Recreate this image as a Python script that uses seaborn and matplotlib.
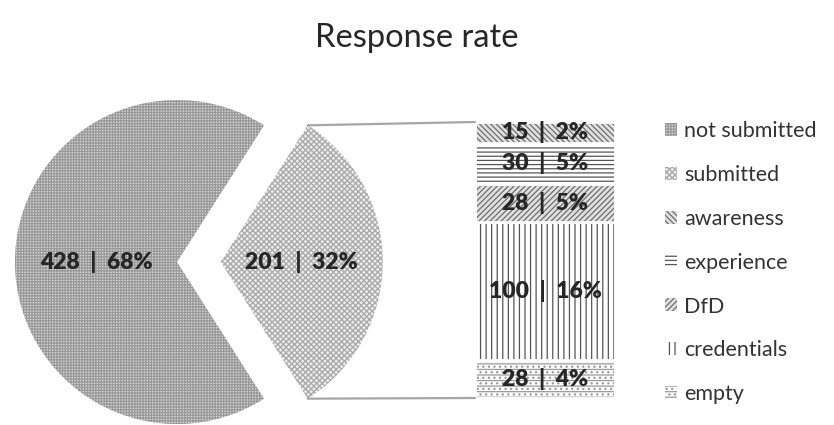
import matplotlib
matplotlib.use("Agg")
import matplotlib.pyplot as plt
from matplotlib.patches import Patch, ConnectionPatch
import numpy as np
import seaborn as sns

# first split: who handed the form in
main_labels = ["submitted", "not submitted"]
main_counts = [201, 428]
main_text = ["201 | 32%", "428 | 68%"]

# breakdown of the submitted ones, bottom to top
sub_labels = ["empty", "credentials", "DfD", "experience", "awareness"]
sub_counts = [28, 100, 28, 30, 15]
sub_text = ["28 | 4%", "100 | 16%", "28 | 5%", "30 | 5%", "15 | 2%"]

legend_order = ["not submitted", "submitted", "awareness", "experience",
                "DfD", "credentials", "empty"]

sns.set_theme(style="white")
plt.rcParams["font.family"] = ["Lato", "DejaVu Sans"]
plt.rcParams["hatch.linewidth"] = 0.9

# hatch colour follows edgecolor, lines are hidden with linewidth 0
styles = {
    "not submitted": dict(facecolor="#d6d6d6", edgecolor="#999999", hatch="++++++"),
    "submitted": dict(facecolor="#ebebeb", edgecolor="#a8a8a8", hatch="xxxxxx"),
    "awareness": dict(facecolor="#e0e0e0", edgecolor="#6e6e6e", hatch="\\\\\\\\\\\\"),
    "experience": dict(facecolor="white", edgecolor="#555555", hatch="----"),
    "DfD": dict(facecolor="#e0e0e0", edgecolor="#6e6e6e", hatch="//////"),
    "credentials": dict(facecolor="white", edgecolor="#555555", hatch="|||"),
    "empty": dict(facecolor="white", edgecolor="#9a9a9a", hatch="---..."),
}
label_font = dict(fontsize=16.5, fontweight="heavy", color="#262626")

fig = plt.figure(figsize=(8.34, 4.25), dpi=100)

# pie in an axes covering the whole figure, 1 data unit = radius
R = 162
cx, cy = 177, 425 - 262
ax_pie = fig.add_axes([0, 0, 1, 1])
frac = main_counts[0] / sum(main_counts)
txt_iter = iter(main_text)
wedges, _, autotexts = ax_pie.pie(
    main_counts, explode=[0.27, 0], startangle=-frac * 180, radius=1,
    autopct=lambda p: next(txt_iter).replace(" | ", "  |  "), pctdistance=0.5,
    wedgeprops=dict(linewidth=0))
for w, lab in zip(wedges, main_labels):
    w.set(**styles[lab])
    w.set_linewidth(0)
for t in autotexts:
    t.set(**label_font)
ax_pie.set_xlim(-cx / R, (834 - cx) / R)
ax_pie.set_ylim(-cy / R, (425 - cy) / R)
ax_pie.set_aspect("equal")
ax_pie.axis("off")

# stacked bar for the submitted slice
ax_bar = fig.add_axes([475 / 834, (425 - 398) / 425, 140 / 834, 276 / 425])
bottom = 0
for lab, val, txt in zip(sub_labels, sub_counts, sub_text):
    ax_bar.bar(0, val, bottom=bottom, width=1, linewidth=0, **styles[lab])
    ax_bar.bar(0, val, bottom=bottom, width=1, fill=False,
               edgecolor="white", linewidth=2)
    ax_bar.text(0, bottom + val / 2, txt.replace(" | ", "  |  "),
                ha="center", va="center", **label_font)
    bottom += val
ax_bar.set_xlim(-0.5, 0.5)
ax_bar.set_ylim(0, bottom)
ax_bar.axis("off")

# connector lines from the exploded wedge to the bar
w = wedges[0]
for ang, yb in [(w.theta2, bottom), (w.theta1, 0)]:
    a = np.deg2rad(ang)
    xa = w.center[0] + w.r * np.cos(a)
    ya = w.center[1] + w.r * np.sin(a)
    con = ConnectionPatch(xyA=(xa, ya), coordsA=ax_pie.transData,
                          xyB=(-0.5, yb), coordsB=ax_bar.transData,
                          color="#a6a6a6", linewidth=1.6)
    fig.add_artist(con)

handles = [Patch(label=lab, linewidth=0, **styles[lab]) for lab in legend_order]
fig.legend(handles=handles, loc="upper left",
           bbox_to_anchor=(665 / 834, 1 - 121 / 425), frameon=False,
           fontsize=15.5, handlelength=0.55, handleheight=0.55,
           handletextpad=0.35, labelspacing=1.11, borderpad=0,
           borderaxespad=0, labelcolor="#333333")

fig.text(417 / 834, 1 - 38 / 425, "Response rate", ha="center", va="center",
         fontsize=23.5, color="#262626")

fig.savefig("out.png", dpi=100)
